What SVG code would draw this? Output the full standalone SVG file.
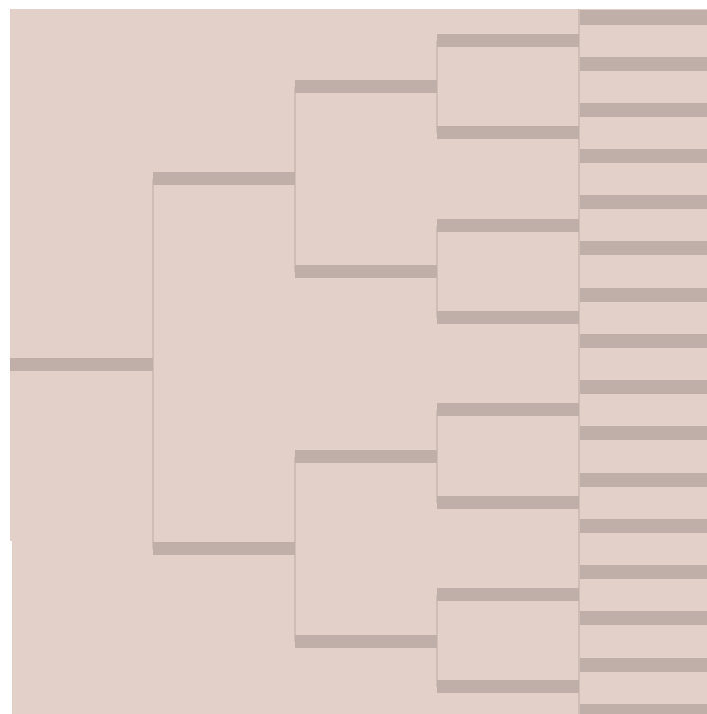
<svg xmlns="http://www.w3.org/2000/svg" width="707" height="714" viewBox="0 0 707 714">
<style>
.bg{fill:#e3d0c9}
.bar{fill:#c0aea9}
.ln{stroke:#d0bdb5;stroke-width:2;fill:none}
</style>
<rect width="707" height="714" fill="#ffffff"/>
<path class="bg" d="M10 9 H707 V714 H12 V541 H10 Z"/>
<g id="connectors">
<line class="ln" x1="153" y1="179" x2="153" y2="549"/>
<line class="ln" x1="295" y1="87" x2="295" y2="272"/>
<line class="ln" x1="295" y1="457" x2="295" y2="642"/>
<line class="ln" x1="437" y1="41" x2="437" y2="133"/>
<line class="ln" x1="437" y1="226" x2="437" y2="318"/>
<line class="ln" x1="437" y1="410" x2="437" y2="503"/>
<line class="ln" x1="437" y1="595" x2="437" y2="687"/>
<line class="ln" x1="579" y1="9" x2="579" y2="714"/>
</g>
<g id="root"><rect class="bar" x="10" y="358" width="143" height="13"/></g>
<g id="l1a"><rect class="bar" x="153" y="172" width="142" height="13"/></g>
<g id="l1b"><rect class="bar" x="153" y="542" width="142" height="13"/></g>
<g id="l2a"><rect class="bar" x="295" y="80" width="142" height="13"/></g>
<g id="l2b"><rect class="bar" x="295" y="265" width="142" height="13"/></g>
<g id="l2c"><rect class="bar" x="295" y="450" width="142" height="13"/></g>
<g id="l2d"><rect class="bar" x="295" y="635" width="142" height="13"/></g>
<g id="l3a"><rect class="bar" x="437" y="34" width="142" height="13"/></g>
<g id="l3b"><rect class="bar" x="437" y="126" width="142" height="13"/></g>
<g id="l3c"><rect class="bar" x="437" y="219" width="142" height="13"/></g>
<g id="l3d"><rect class="bar" x="437" y="311" width="142" height="13"/></g>
<g id="l3e"><rect class="bar" x="437" y="403" width="142" height="13"/></g>
<g id="l3f"><rect class="bar" x="437" y="496" width="142" height="13"/></g>
<g id="l3g"><rect class="bar" x="437" y="588" width="142" height="13"/></g>
<g id="l3h"><rect class="bar" x="437" y="680" width="142" height="13"/></g>
<g id="l4a"><rect class="bar" x="580" y="10" width="127" height="15"/></g>
<g id="l4b"><rect class="bar" x="580" y="57" width="127" height="14"/></g>
<g id="l4c"><rect class="bar" x="580" y="103" width="127" height="14"/></g>
<g id="l4d"><rect class="bar" x="580" y="149" width="127" height="14"/></g>
<g id="l4e"><rect class="bar" x="580" y="195" width="127" height="14"/></g>
<g id="l4f"><rect class="bar" x="580" y="241" width="127" height="14"/></g>
<g id="l4g"><rect class="bar" x="580" y="288" width="127" height="14"/></g>
<g id="l4h"><rect class="bar" x="580" y="334" width="127" height="14"/></g>
<g id="l4i"><rect class="bar" x="580" y="380" width="127" height="14"/></g>
<g id="l4j"><rect class="bar" x="580" y="426" width="127" height="14"/></g>
<g id="l4k"><rect class="bar" x="580" y="473" width="127" height="14"/></g>
<g id="l4l"><rect class="bar" x="580" y="519" width="127" height="14"/></g>
<g id="l4m"><rect class="bar" x="580" y="565" width="127" height="14"/></g>
<g id="l4n"><rect class="bar" x="580" y="611" width="127" height="14"/></g>
<g id="l4o"><rect class="bar" x="580" y="658" width="127" height="14"/></g>
<g id="l4p"><rect class="bar" x="580" y="704" width="127" height="10"/></g>
</svg>
